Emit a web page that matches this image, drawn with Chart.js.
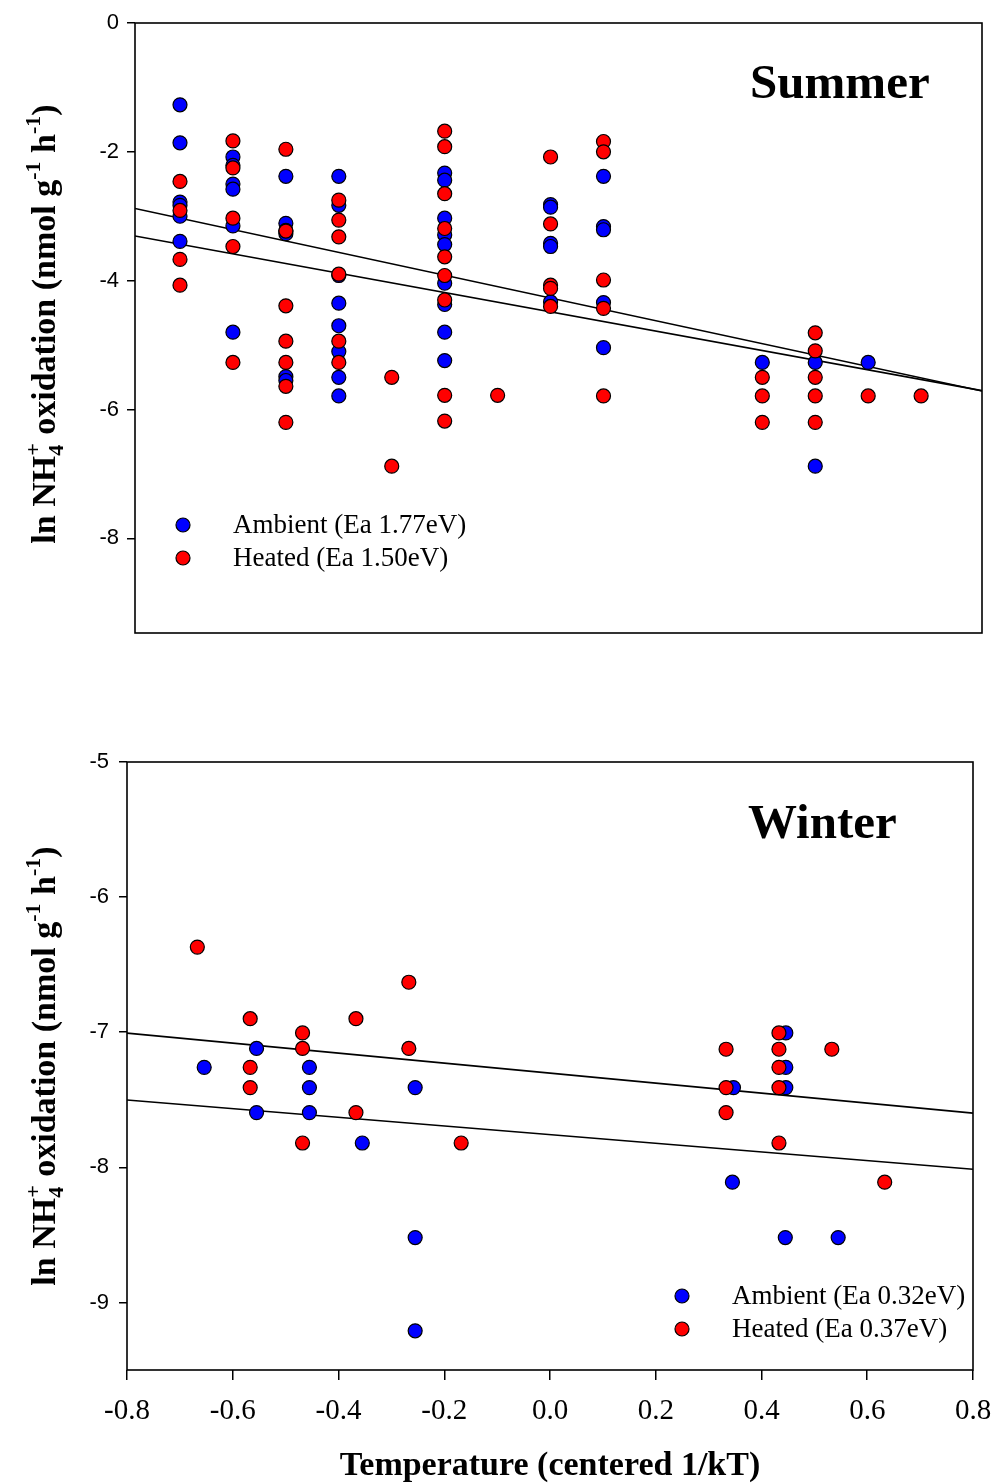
<!DOCTYPE html>
<html>
<head>
<meta charset="utf-8">
<script src="https://cdn.jsdelivr.net/npm/chart.js@4.4.1/dist/chart.umd.min.js"></script>
<style>
  html, body { margin: 0; padding: 0; background: #fff; }
  #wrap { position: relative; width: 995px; height: 1484px; }
  canvas { position: absolute; left: 0; }
</style>
</head>
<body>
<div id="wrap">
  <canvas id="summerChart" width="995" height="700" style="top:0px"></canvas>
  <canvas id="winterChart" width="995" height="784" style="top:700px"></canvas>
</div>
<script>
// ---- Summer panel data ----
const summerAmbientX = [
  -0.7, -0.7, -0.7, -0.7, -0.7, -0.7,
  -0.6, -0.6, -0.6, -0.6, -0.6, -0.6,
  -0.5, -0.5, -0.5, -0.5, -0.5, -0.5,
  -0.4, -0.4, -0.4, -0.4, -0.4, -0.4, -0.4, -0.4,
  -0.2, -0.2, -0.2, -0.2, -0.2, -0.2, -0.2, -0.2, -0.2,
  0.0, 0.0, 0.0, 0.0, 0.0,
  0.1, 0.1, 0.1, 0.1, 0.1,
  0.4, 0.5, 0.5, 0.6
];
const summerAmbientY = [
  -1.27, -1.86, -2.78, -2.83, -3.00, -3.39,
  -2.08, -2.21, -2.50, -2.58, -3.15, -4.80,
  -2.38, -3.11, -3.22, -3.27, -5.49, -5.55,
  -2.38, -2.83, -3.92, -4.35, -4.70, -5.10, -5.50, -5.79,
  -2.33, -2.44, -3.03, -3.29, -3.44, -4.04, -4.37, -4.80, -5.24,
  -2.82, -2.86, -3.42, -3.47, -4.33,
  -2.38, -3.16, -3.21, -4.34, -5.04,
  -5.27, -5.27, -6.88, -5.27
];
const summerHeatedX = [
  -0.7, -0.7, -0.7, -0.7,
  -0.6, -0.6, -0.6, -0.6, -0.6,
  -0.5, -0.5, -0.5, -0.5, -0.5, -0.5, -0.5,
  -0.4, -0.4, -0.4, -0.4, -0.4, -0.4,
  -0.3, -0.3,
  -0.2, -0.2, -0.2, -0.2, -0.2, -0.2, -0.2, -0.2, -0.2,
  -0.1,
  0.0, 0.0, 0.0, 0.0, 0.0,
  0.1, 0.1, 0.1, 0.1, 0.1,
  0.4, 0.4, 0.4,
  0.5, 0.5, 0.5, 0.5, 0.5,
  0.6, 0.7
];
const summerHeatedY = [
  -2.46, -2.91, -3.67, -4.07,
  -1.83, -2.25, -3.03, -3.47, -5.27,
  -1.96, -3.23, -4.39, -4.94, -5.27, -5.64, -6.20,
  -2.75, -3.06, -3.32, -3.90, -4.94, -5.27,
  -5.50, -6.88,
  -1.68, -1.92, -2.65, -3.19, -3.63, -3.92, -4.30, -5.78, -6.18,
  -5.78,
  -2.08, -3.12, -4.07, -4.12, -4.40,
  -1.84, -2.00, -3.99, -4.43, -5.79,
  -5.50, -5.79, -6.20,
  -4.81, -5.09, -5.50, -5.79, -6.20,
  -5.79, -5.79
];
// fitted lines [ambient, heated]
const summerFitIntercept = [-4.27, -4.485];
const summerFitSlope = [-1.77, -1.50];
const summerLabels = ['Ambient (Ea 1.77eV)', 'Heated (Ea 1.50eV)'];
const summerYTicks = [0, -2, -4, -6, -8];

// ---- Winter panel data ----
const winterAmbientX = [
  -0.654, -0.555, -0.555, -0.455, -0.455, -0.455, -0.355,
  -0.255, -0.255, -0.255,
  0.347, 0.345, 0.446, 0.446, 0.446, 0.445, 0.545
];
const winterAmbientY = [
  -7.26, -7.12, -7.595, -7.26, -7.41, -7.595, -7.82,
  -7.41, -8.52, -9.21,
  -7.41, -8.11, -7.005, -7.26, -7.41, -8.52, -8.52
];
const winterHeatedX = [
  -0.667, -0.567, -0.567, -0.567, -0.468, -0.468, -0.468,
  -0.367, -0.367, -0.267, -0.267, -0.168,
  0.333, 0.333, 0.333, 0.433, 0.433, 0.433, 0.433, 0.433, 0.533, 0.633
];
const winterHeatedY = [
  -6.37, -6.90, -7.26, -7.41, -7.005, -7.12, -7.82,
  -6.90, -7.595, -6.63, -7.12, -7.82,
  -7.126, -7.41, -7.595, -7.005, -7.126, -7.26, -7.41, -7.82, -7.126, -8.11
];
const winterFitIntercept = [-7.758, -7.303];
const winterFitSlope = [-0.32, -0.37];
const winterLabels = ['Ambient (Ea 0.32eV)', 'Heated (Ea 0.37eV)'];
const winterYTicks = [-5, -6, -7, -8, -9];
const xTickLabels = ['-0.8', '-0.6', '-0.4', '-0.2', '0.0', '0.2', '0.4', '0.6', '0.8'];

const BLUE = '#0000ff';
const RED = '#ff0000';
const SERIF = '"Liberation Serif", "Times New Roman", serif';
const SANS = '"Liberation Sans", Arial, sans-serif';

Chart.defaults.font.family = SERIF;
Chart.defaults.color = '#000';

function toPoints(xs, ys) {
  return xs.map((x, i) => ({ x: x, y: ys[i] }));
}

function fitLine(a, b, xmin, xmax) {
  return [{ x: xmin, y: a + b * xmin }, { x: xmax, y: a + b * xmax }];
}

function scatterSet(label, pts, color, order) {
  return {
    type: 'scatter', label: label, data: pts, order: order,
    backgroundColor: color, borderColor: '#000', borderWidth: 1.2,
    pointRadius: 7, pointHoverRadius: 7
  };
}

function lineSet(pts) {
  return {
    type: 'line', data: pts, order: 5, showLine: true, fill: false,
    borderColor: '#000', borderWidth: 1.6, pointRadius: 0, isFit: true
  };
}

// y axis title with subscript / superscripts
function drawYTitle(ctx, cx, cy) {
  const big = 'bold 34px ' + SERIF;
  const small = 'bold 22px ' + SERIF;
  const parts = [
    { t: 'ln NH', f: big, dy: 0 },
    { t: '4', f: small, dy: 8, stack: true },
    { t: '+', f: small, dy: -15 },
    { t: ' oxidation (nmol g', f: big, dy: 0 },
    { t: '-1', f: small, dy: -15 },
    { t: ' h', f: big, dy: 0 },
    { t: '-1', f: small, dy: -15 },
    { t: ')', f: big, dy: 0 }
  ];
  ctx.save();
  let total = 0;
  for (let i = 0; i < parts.length; i++) {
    ctx.font = parts[i].f;
    parts[i].w = ctx.measureText(parts[i].t).width;
  }
  for (let i = 0; i < parts.length; i++) {
    if (parts[i].stack) {
      total += Math.max(parts[i].w, parts[i + 1].w);
      i++;
    } else total += parts[i].w;
  }
  ctx.translate(cx, cy);
  ctx.rotate(-Math.PI / 2);
  ctx.fillStyle = '#000';
  ctx.textBaseline = 'alphabetic';
  ctx.textAlign = 'left';
  let x = -total / 2;
  for (let i = 0; i < parts.length; i++) {
    const p = parts[i];
    ctx.font = p.f;
    if (p.stack) {
      const q = parts[i + 1];
      ctx.fillText(p.t, x, 12 + p.dy);
      ctx.font = q.f;
      ctx.fillText(q.t, x, 12 + q.dy);
      x += Math.max(p.w, q.w);
      i++;
    } else {
      ctx.fillText(p.t, x, 12 + p.dy);
      x += p.w;
    }
  }
  ctx.restore();
}

function decorPlugin(cfg) {
  return {
    id: 'decor',
    afterDraw(chart) {
      const ctx = chart.ctx;
      const a = chart.chartArea;
      ctx.save();
      // frame
      ctx.strokeStyle = '#000';
      ctx.lineWidth = 1.6;
      ctx.strokeRect(a.left, a.top, a.right - a.left, a.bottom - a.top);
      // panel name
      ctx.fillStyle = '#000';
      ctx.font = 'bold 49px ' + SERIF;
      ctx.textBaseline = 'alphabetic';
      ctx.textAlign = 'left';
      ctx.fillText(cfg.name, cfg.nameX, cfg.nameY);
      // legend
      const sets = chart.data.datasets.filter(d => !d.isFit);
      sets.forEach((d, i) => {
        const y = cfg.legY + i * 33;
        ctx.beginPath();
        ctx.arc(cfg.legX, y, 7, 0, Math.PI * 2);
        ctx.fillStyle = d.backgroundColor;
        ctx.fill();
        ctx.lineWidth = 1.2;
        ctx.strokeStyle = '#000';
        ctx.stroke();
        ctx.fillStyle = '#000';
        ctx.font = '27px ' + SERIF;
        ctx.textBaseline = 'middle';
        ctx.fillText(d.label, cfg.legX + 50, y + 1);
      });
      ctx.restore();
      drawYTitle(ctx, cfg.titleX, cfg.titleY);
    }
  };
}

function yTickCallback(list) {
  return function (v) {
    const hit = list.find(t => Math.abs(t - v) < 1e-6);
    return hit === undefined ? '' : String(hit);
  };
}

// ---- Summer chart ----
const sxMin = -0.785, sxMax = 0.815;
new Chart(document.getElementById('summerChart').getContext('2d'), {
  type: 'scatter',
  data: {
    datasets: [
      scatterSet(summerLabels[0], toPoints(summerAmbientX, summerAmbientY), BLUE, 1),
      scatterSet(summerLabels[1], toPoints(summerHeatedX, summerHeatedY), RED, 0),
      lineSet(fitLine(summerFitIntercept[0], summerFitSlope[0], sxMin, sxMax)),
      lineSet(fitLine(summerFitIntercept[1], summerFitSlope[1], sxMin, sxMax))
    ]
  },
  options: {
    responsive: false,
    animation: false,
    events: [],
    layout: { padding: { left: 0, right: 13, top: 23, bottom: 0 } },
    plugins: { legend: { display: false }, tooltip: { enabled: false } },
    scales: {
      x: {
        type: 'linear', min: sxMin, max: sxMax,
        ticks: { display: false },
        grid: { display: false, drawTicks: false },
        border: { display: false },
        afterFit: s => { s.height = 67; s.paddingLeft = 0; s.paddingRight = 0; }
      },
      y: {
        type: 'linear', min: -9.47, max: 0,
        ticks: {
          stepSize: 2, includeBounds: false, padding: 8,
          font: { family: SANS, size: 22 }, color: '#000',
          callback: yTickCallback(summerYTicks)
        },
        grid: { drawOnChartArea: false, drawTicks: true, tickLength: 8, color: '#000', lineWidth: 1.5 },
        border: { display: false },
        afterFit: s => { s.width = 135; s.paddingTop = 0; s.paddingBottom = 0; }
      }
    }
  },
  plugins: [decorPlugin({ name: 'Summer', nameX: 750, nameY: 98, legX: 183, legY: 525, titleX: 43, titleY: 324 })]
});

// ---- Winter chart ----
const wxMin = -0.8, wxMax = 0.8;
new Chart(document.getElementById('winterChart').getContext('2d'), {
  type: 'scatter',
  data: {
    datasets: [
      scatterSet(winterLabels[0], toPoints(winterAmbientX, winterAmbientY), BLUE, 1),
      scatterSet(winterLabels[1], toPoints(winterHeatedX, winterHeatedY), RED, 0),
      lineSet(fitLine(winterFitIntercept[0], winterFitSlope[0], wxMin, wxMax)),
      lineSet(fitLine(winterFitIntercept[1], winterFitSlope[1], wxMin, wxMax))
    ]
  },
  options: {
    responsive: false,
    animation: false,
    events: [],
    layout: { padding: { left: 0, right: 22, top: 62, bottom: 0 } },
    plugins: { legend: { display: false }, tooltip: { enabled: false } },
    scales: {
      x: {
        type: 'linear', min: wxMin, max: wxMax,
        ticks: {
          stepSize: 0.2, includeBounds: false, padding: 14, maxRotation: 0,
          font: { family: SERIF, size: 29 }, color: '#000',
          callback: function (v) {
            const i = Math.round((v - wxMin) / 0.2);
            return xTickLabels[i];
          }
        },
        grid: { drawOnChartArea: false, drawTicks: true, tickLength: 10, color: '#000', lineWidth: 1.5 },
        border: { display: false },
        title: {
          display: true, text: 'Temperature (centered 1/kT)', color: '#000',
          font: { family: SERIF, size: 34, weight: 'bold', lineHeight: 1.05 },
          padding: { top: 0, bottom: 0 }
        },
        afterFit: s => { s.height = 114; s.paddingLeft = 0; s.paddingRight = 0; }
      },
      y: {
        type: 'linear', min: -9.5, max: -5,
        ticks: {
          stepSize: 1, includeBounds: false, padding: 10,
          font: { family: SANS, size: 22 }, color: '#000',
          callback: yTickCallback(winterYTicks)
        },
        grid: { drawOnChartArea: false, drawTicks: true, tickLength: 8, color: '#000', lineWidth: 1.5 },
        border: { display: false },
        afterFit: s => { s.width = 127; s.paddingTop = 0; s.paddingBottom = 0; }
      }
    }
  },
  plugins: [decorPlugin({ name: 'Winter', nameX: 748, nameY: 138, legX: 682, legY: 596, titleX: 43, titleY: 366 })]
});
</script>
</body>
</html>
